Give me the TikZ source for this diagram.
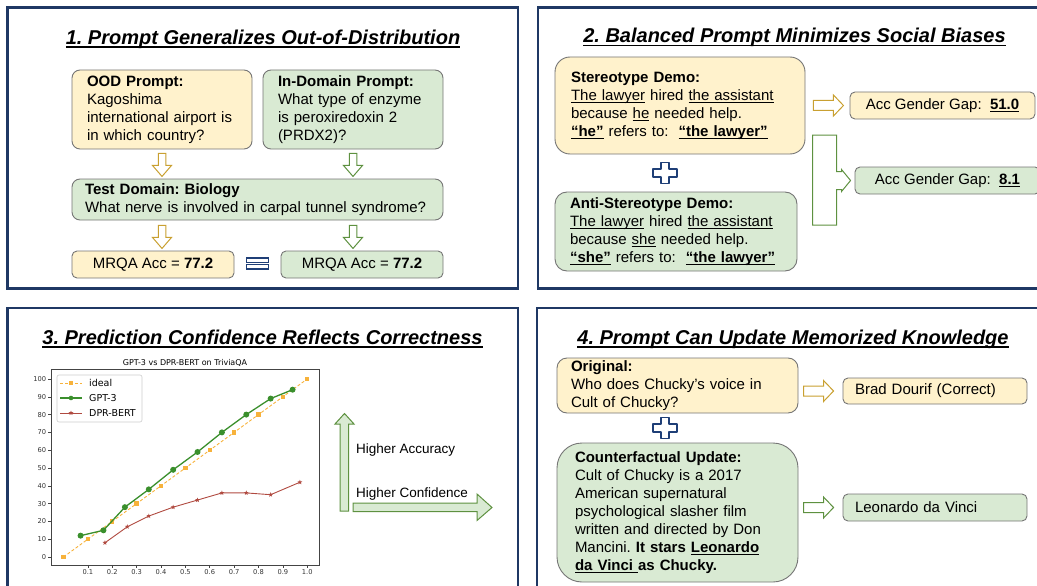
\documentclass[tikz,border=0pt]{standalone}
\usepackage{fontspec}
\setmainfont{Liberation Sans}
\newfontfamily\plotfont{DejaVu Sans}
\usetikzlibrary{calc,shapes.geometric,plotmarks}
\frenchspacing

\definecolor{framenavy}{HTML}{1F3864}
\definecolor{boxyellow}{HTML}{FFF2CC}
\definecolor{boxgreen}{HTML}{D9EAD3}
\definecolor{boxgray}{HTML}{757575}
\definecolor{arrowgold}{HTML}{C9A031}
\definecolor{arrowgreen}{HTML}{5E9140}
\definecolor{plusblue}{HTML}{1F3F77}
\definecolor{idealorange}{HTML}{F7B23B}
\definecolor{gptgreen}{HTML}{3A8F2C}
\definecolor{dprbrown}{HTML}{B04A40}
\definecolor{axisgray}{HTML}{444444}

% underlines at a fixed depth
\newcommand{\ulword}[1]{\mbox{\setbox0=\hbox{#1}\rlap{\rule[-2.8pt]{\wd0}{1pt}}\box0}}
\newcommand{\ultitle}[1]{\mbox{\setbox0=\hbox{#1}\rlap{\rule[-3.6pt]{\wd0}{1.5pt}}\box0}}

\tikzset{
  panel/.style={draw=framenavy, line width=2.2pt},
  paneltitle/.style={font=\fontsize{20}{24}\selectfont\bfseries\itshape, inner sep=0pt, anchor=base},
  textbox/.style={draw=boxgray, line width=0.9pt, align=left, inner ysep=0pt, font=\fontsize{15}{18}\selectfont},
  ybox/.style={textbox, fill=boxyellow},
  gbox/.style={textbox, fill=boxgreen},
  goldarrow/.style={draw=arrowgold, line width=1pt, fill=white},
  greenarrow/.style={draw=arrowgreen, line width=1pt, fill=white},
  bigarrow/.style={draw=arrowgreen, line width=1pt, fill=boxgreen},
  plussign/.style={draw=plusblue, line width=1.8pt, line join=round},
  note/.style={font=\fontsize{13.5}{16}\selectfont, anchor=west, inner sep=0pt},
  legendtext/.style={font=\plotfont\fontsize{9.5}{11}\selectfont, anchor=west, inner sep=0pt},
  starmark/.style={star, star points=5, star point ratio=2.4, fill=dprbrown, draw=none, inner sep=0pt, minimum size=5pt},
  downblock/.pic={\draw[pic actions] (-3.75,0) -- (3.75,0) -- (3.75,12) -- (9.5,12) -- (0,23) -- (-9.5,12) -- (-3.75,12) -- cycle;},
  rightblock/.pic={\draw[pic actions] (0,-5) -- (20,-5) -- (20,-10.5) -- (30,0) -- (20,10.5) -- (20,5) -- (0,5) -- cycle;},
  plusblock/.pic={\draw[pic actions] (-4,-10.5) -- (4,-10.5) -- (4,-4) -- (12,-4) -- (12,4) -- (4,4) -- (4,10.5) -- (-4,10.5) -- (-4,4) -- (-12,4) -- (-12,-4) -- (-4,-4) -- cycle;}
}

\begin{document}
\begin{tikzpicture}[x=1pt, y=-1pt]

  \useasboundingbox (0,0) rectangle (1037,586);
  \clip (0,0) rectangle (1037,586);

  % Panel frames
  \draw[panel] (7.5,7.5) rectangle (518,288.5);
  \draw[panel] (538,7.5) rectangle (1047,288.5);
  \draw[panel] (7.5,308) rectangle (518,600);
  \draw[panel] (537,308) rectangle (1047,600);

  % Panel titles
  \node[paneltitle] (titleone) at (263,44.3) {\ultitle{1. Prompt Generalizes Out-of-Distribution}};
  \node[paneltitle] (titletwo) at (794.5,42.7) {\ultitle{2. Balanced Prompt Minimizes Social Biases}};
  \node[paneltitle] (titlethree) at (262.5,344) {\ultitle{3. Prediction Confidence Reflects Correctness}};
  \node[paneltitle] (titlefour) at (793,344) {\ultitle{4. Prompt Can Update Memorized Knowledge}};

  % 1. Out-of-distribution prompts
  \node[ybox, rounded corners=8pt, inner xsep=15pt, text width=150pt, minimum height=79pt] (ood) at (162,109.5)
    {\textbf{OOD Prompt:}\\Kagoshima\\international airport is\\in which country?};
  \node[gbox, rounded corners=8pt, inner xsep=15pt, text width=150pt, minimum height=79pt] (indomain) at (353,109.5)
    {\textbf{In-Domain Prompt:}\\What type of enzyme\\is peroxiredoxin 2\\(PRDX2)?};
  \node[gbox, rounded corners=8pt, inner xsep=13pt, text width=345pt, minimum height=41pt] (testdomain) at (257.5,199.5)
    {\textbf{Test Domain: Biology}\\What nerve is involved in carpal tunnel syndrome?};
  \node[ybox, align=center, rounded corners=5pt, minimum width=162pt, minimum height=27pt] (accood) at (153,264.5)
    {MRQA Acc = \textbf{77.2}};
  \node[gbox, align=center, rounded corners=5pt, minimum width=162pt, minimum height=27pt] (accid) at (362,264.5)
    {MRQA Acc = \textbf{77.2}};

  \pic[goldarrow] at ($(ood.south)+(0,4)$) {downblock};
  \pic[greenarrow] at ($(indomain.south)+(0,4)$) {downblock};
  \pic[goldarrow] at ($(ood.south |- testdomain.south)+(0,5)$) {downblock};
  \pic[greenarrow] at ($(indomain.south |- testdomain.south)+(0,5)$) {downblock};

  % equal sign
  \coordinate (equal) at ($(accood.east)!0.5!(accid.west)+(0,-1)$);
  \draw[draw=plusblue, line width=1.3pt] ($(equal)+(-11,-5.5)$) rectangle ($(equal)+(11,-0.8)$);
  \draw[draw=plusblue, line width=1.3pt] ($(equal)+(-11,0.8)$) rectangle ($(equal)+(11,5.5)$);

  % 2. Balanced demos
  \node[ybox, rounded corners=15pt, inner xsep=16pt, text width=218pt, minimum height=97pt] (stereo) at (680,105.5)
    {\textbf{Stereotype Demo:}\\\ulword{The lawyer} hired \ulword{the assistant}\\because \ulword{he} needed help.\\\textbf{\ulword{“he”}} refers to:\ \ \textbf{\ulword{“the lawyer”}}};
  \node[gbox, rounded corners=12pt, inner xsep=15pt, text width=212pt, minimum height=79pt] (anti) at (676,231.5)
    {\textbf{Anti-Stereotype Demo:}\\\ulword{The lawyer} hired \ulword{the assistant}\\because \ulword{she} needed help.\\\textbf{\ulword{“she”}} refers to:\ \ \textbf{\ulword{“the lawyer”}}};
  \pic[plussign] at (665,173) {plusblock};

  \node[ybox, align=center, rounded corners=5pt, minimum width=185pt, minimum height=27pt] (gapstereo) at (942.5,105.5)
    {Acc Gender Gap:\ \ \textbf{\ulword{51.0}}};
  \node[gbox, align=center, rounded corners=5pt, minimum width=185pt, minimum height=27pt] (gapbalanced) at (947.5,180.5)
    {Acc Gender Gap:\ \ \textbf{\ulword{8.1}}};

  \pic[goldarrow] at ($(stereo.east)+(8,0)$) {rightblock};
  % bracket arrow for the balanced prompt
  \draw[greenarrow] ($(gapbalanced.west)+(-4,0)$) -- ++(-9,-11) -- ++(0,2) -- ++(-5,0) -- ++(0,-36.5)
    -- ++(-24,0) -- ++(0,90) -- ++(24,0) -- ++(0,-35.5) -- ++(5,0) -- ++(0,2) -- cycle;

  % 3. Calibration chart
  \node[font=\plotfont\fontsize{8}{10}\selectfont, inner sep=0pt] (charttitle) at (185,363) {GPT-3 vs DPR-BERT on TriviaQA};
  \begin{scope}[shift={(63.5,557)}, x=243.7pt, y=1.78pt, font=\plotfont\fontsize{6.7}{8}\selectfont]
    \draw[axisgray, line width=0.6pt] (-0.0513,-4.49) rectangle (1.0484,105.6);
    \foreach \v in {0,10,...,100}
      \draw[axisgray, line width=0.5pt] (-0.0513,\v) -- ++(-3pt,0pt) node[left, inner sep=1.5pt, text=black!80] (ylab\v) {\v};
    \foreach \v in {1,...,9}
      \draw[axisgray, line width=0.5pt] (0.\v,-4.49) -- ++(0pt,-3pt) node[below, inner sep=1.5pt, text=black!80] (xlab\v) {0.\v};
    \draw[axisgray, line width=0.5pt] (1,-4.49) -- ++(0pt,-3pt) node[below, inner sep=1.5pt, text=black!80] (xlab10) {1.0};

    % ideal
    \draw[idealorange, line width=0.9pt, dash pattern=on 3pt off 2pt, mark=square*, mark size=1.7pt, mark options={solid}]
      plot coordinates {(0,0) (0.1,10) (0.2,20) (0.3,30) (0.4,40) (0.5,50) (0.6,60) (0.7,70) (0.8,80) (0.9,90) (1.0,100)};
    % GPT-3
    \draw[gptgreen, line width=1.3pt, mark=*, mark size=2.3pt]
      plot coordinates {(0.07,12) (0.164,15) (0.252,28) (0.35,38) (0.45,49) (0.55,59) (0.65,70) (0.75,80) (0.85,89) (0.94,94)};
    % DPR-BERT
    \draw[dprbrown, line width=0.9pt]
      plot coordinates {(0.17,8) (0.262,17) (0.35,23) (0.45,28) (0.55,32) (0.65,36) (0.75,36) (0.85,35) (0.97,42)};
    \foreach \p [count=\i] in {(0.17,8),(0.262,17),(0.35,23),(0.45,28),(0.55,32),(0.65,36),(0.75,36),(0.85,35),(0.97,42)}
      \node[starmark] (dpr\i) at \p {};
  \end{scope}

  % legend
  \draw[draw=black!20, fill=white, rounded corners=2pt, line width=0.6pt] (57,375) rectangle (142,422);
  \draw[idealorange, line width=0.9pt, dash pattern=on 3pt off 2pt] (60,383) -- (82,383);
  \fill[idealorange] (69.3,381.3) rectangle (72.7,384.7);
  \node[legendtext] (legideal) at (89,383) {ideal};
  \draw[gptgreen, line width=1.3pt] (60,398) -- (82,398);
  \fill[gptgreen] (71,398) circle (2.3pt);
  \node[legendtext] (leggpt) at (89,398) {GPT-3};
  \draw[dprbrown, line width=0.9pt] (60,413) -- (82,413);
  \node[starmark] (legstar) at (71,413) {};
  \node[legendtext] (legdpr) at (89,413) {DPR-BERT};

  % accuracy / confidence arrows
  \draw[bigarrow] (340,511) -- (340,424) -- (335,424) -- (344.5,413.5) -- (354,424) -- (348.5,424) -- (348.5,511) -- cycle;
  \draw[bigarrow] (353,503) -- (477,503) -- (477,494) -- (492,507.5) -- (477,520.5) -- (477,511.5) -- (353,511.5) -- cycle;
  \node[note] (accuracy) at (356,450) {Higher Accuracy};
  \node[note] (confidence) at (356,494) {Higher Confidence};

  % 4. Counterfactual knowledge update
  \node[ybox, rounded corners=10pt, inner xsep=14pt, text width=213pt, minimum height=55pt] (original) at (677.5,385.5)
    {\textbf{Original:}\\Who does Chucky’s voice in\\Cult of Chucky?};
  \pic[plussign] at (665,428) {plusblock};
  \node[gbox, rounded corners=25pt, inner xsep=18pt, text width=205pt, minimum height=139pt] (counter) at (677.5,512.5)
    {\textbf{Counterfactual Update:}\\Cult of Chucky is a 2017\\American supernatural\\psychological slasher film\\written and directed by Don\\Mancini. \textbf{It stars \ulword{Leonardo}}\\\textbf{\ulword{da Vinci\ }as Chucky.}};

  \node[ybox, rounded corners=5pt, inner xsep=12pt, text width=160pt, minimum height=26pt] (brad) at (935,391)
    {Brad Dourif (Correct)};
  \node[gbox, rounded corners=5pt, inner xsep=12pt, text width=160pt, minimum height=27pt] (leonardo) at (935,507.5)
    {Leonardo da Vinci};

  \pic[goldarrow] at ($(brad.west)+(-39,0)$) {rightblock};
  \pic[greenarrow] at ($(leonardo.west)+(-39,0)$) {rightblock};

\end{tikzpicture}
\end{document}
